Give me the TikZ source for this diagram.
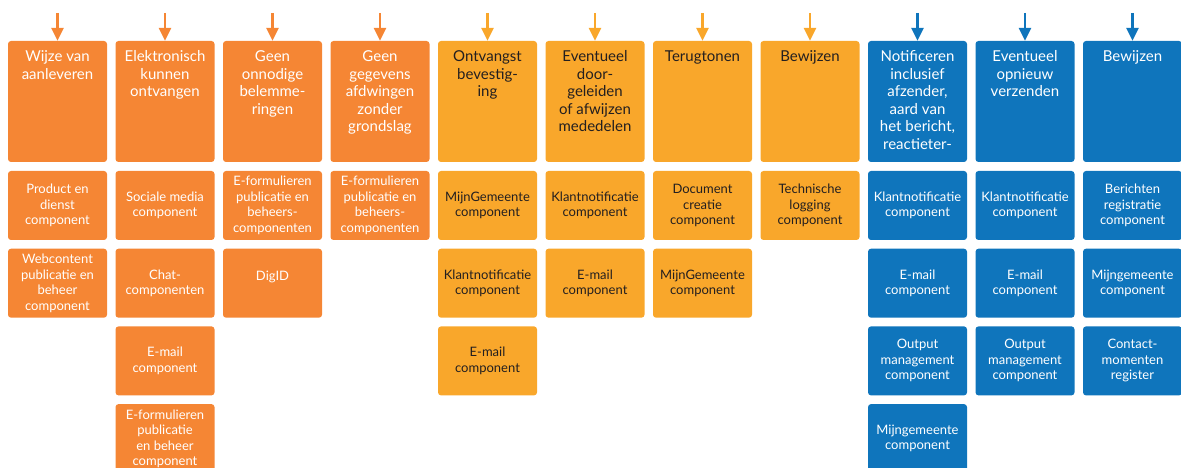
\documentclass[tikz,border=0pt]{standalone}
\usepackage{fontspec}
\setmainfont{Lato}
\usepackage{tikz}
\usetikzlibrary{arrows.meta,positioning}
\definecolor{oranje}{HTML}{F58634}
\definecolor{geel}{HTML}{F9A72B}
\definecolor{blauw}{HTML}{0F75BC}
\definecolor{inkt}{HTML}{231F20}
\newcommand{\kop}[1]{\parbox[t][121pt][t]{99pt}{\centering\vspace*{8.75pt}\strut#1}}

\begin{document}
\begin{tikzpicture}[x=1pt, y=1pt, >={Triangle[width=12pt,length=13pt]}, node distance=107.5pt, on grid,
  box/.style={rounded corners=3pt, inner sep=0pt, minimum width=99pt, align=center},
  head/.style={box, minimum height=121pt, font=\fontsize{15}{17.5}\selectfont},
  part/.style={box, minimum height=69pt, font=\fontsize{13}{15.5}\selectfont},
  kolO/.style={fill=oranje, text=white},
  kolG/.style={fill=geel, text=inkt},
  kolB/.style={fill=blauw, text=white},
  pijl/.style={->, line width=2.5pt}]
\useasboundingbox (0,0) rectangle (1181,468);

% kopjes
\node[head, kolO] (h1) at (57.5,366.5) {\kop{Wijze van\\aanleveren}};
\node[head, kolO, right=of h1] (h2) {\kop{Elektronisch\\kunnen\\ontvangen}};
\node[head, kolO, right=of h2] (h3) {\kop{Geen\\onnodige\\belemme-\\ringen}};
\node[head, kolO, right=of h3] (h4) {\kop{Geen\\gegevens\\afdwingen\\zonder\\grondslag}};
\node[head, kolG, right=of h4] (h5) {\kop{Ontvangst\\bevestig-\\ing}};
\node[head, kolG, right=of h5] (h6) {\kop{Eventueel\\door-\\geleiden\\of afwijzen\\mededelen}};
\node[head, kolG, right=of h6] (h7) {\kop{Terugtonen}};
\node[head, kolG, right=of h7] (h8) {\kop{Bewijzen}};
\node[head, kolB, right=of h8] (h9) {\kop{Notificeren\\inclusief\\afzender,\\aard van\\het bericht,\\reactieter-}};
\node[head, kolB, right=of h9] (h10) {\kop{Eventueel\\opnieuw\\verzenden}};
\node[head, kolB, right=of h10] (h11) {\kop{Bewijzen}};

% componenten
\node[part, kolO, below=104pt of h1] (c1a) {Product en\\dienst\\component};
\node[part, kolO, below=77.7pt of c1a] (c1b) {Webcontent\\publicatie en\\beheer\\component};

\node[part, kolO, below=104pt of h2] (c2a) {Sociale media\\component};
\node[part, kolO, below=77.7pt of c2a] (c2b) {Chat-\\componenten};
\node[part, kolO, below=77.7pt of c2b] (c2c) {E-mail\\component};
\node[part, kolO, below=77.7pt of c2c] (c2d) {E-formulieren\\publicatie\\en beheer\\component};

\node[part, kolO, below=104pt of h3] (c3a) {E-formulieren\\publicatie en\\beheers-\\componenten};
\node[part, kolO, below=77.7pt of c3a] (c3b) {DigID\\\phantom{D}};

\node[part, kolO, below=104pt of h4] (c4a) {E-formulieren\\publicatie en\\beheers-\\componenten};

\node[part, kolG, below=104pt of h5] (c5a) {MijnGemeente\\component};
\node[part, kolG, below=77.7pt of c5a] (c5b) {Klantnotificatie\\component};
\node[part, kolG, below=77.7pt of c5b] (c5c) {E-mail\\component};

\node[part, kolG, below=104pt of h6] (c6a) {Klantnotificatie\\component};
\node[part, kolG, below=77.7pt of c6a] (c6b) {E-mail\\component};

\node[part, kolG, below=104pt of h7] (c7a) {Document\\creatie\\component};
\node[part, kolG, below=77.7pt of c7a] (c7b) {MijnGemeente\\component};

\node[part, kolG, below=104pt of h8] (c8a) {Technische\\logging\\component};

\node[part, kolB, below=104pt of h9] (c9a) {Klantnotificatie\\component};
\node[part, kolB, below=77.7pt of c9a] (c9b) {E-mail\\component};
\node[part, kolB, below=77.7pt of c9b] (c9c) {Output\\management\\component};
\node[part, kolB, below=77.7pt of c9c] (c9d) {Mijngemeente\\component};

\node[part, kolB, below=104pt of h10] (c10a) {Klantnotificatie\\component};
\node[part, kolB, below=77.7pt of c10a] (c10b) {E-mail\\component};
\node[part, kolB, below=77.7pt of c10b] (c10c) {Output\\management\\component};

\node[part, kolB, below=104pt of h11] (c11a) {Berichten\\registratie\\component};
\node[part, kolB, below=77.7pt of c11a] (c11b) {Mijngemeente\\component};
\node[part, kolB, below=77.7pt of c11b] (c11c) {Contact-\\momenten\\register};

% pijlen
\foreach \i/\c in {1/oranje,2/oranje,3/oranje,4/oranje,5/geel,6/geel,7/geel,8/geel,9/blauw,10/blauw,11/blauw} {
  \coordinate[above=28pt of h\i.north] (a\i);
  \draw[pijl, \c] (a\i) -- (h\i.north);
}
\end{tikzpicture}
\end{document}
